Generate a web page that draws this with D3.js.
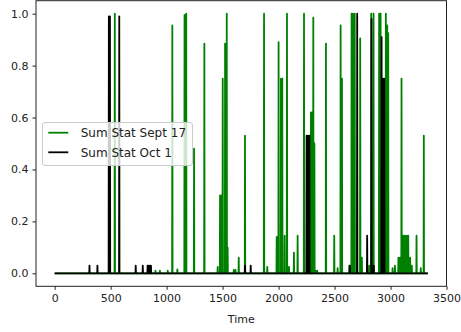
<!DOCTYPE html>
<html>
<head>
<meta charset="utf-8">
<script src="https://cdn.jsdelivr.net/npm/d3@7"></script>
<style>
  html, body { margin: 0; padding: 0; background: #fff; }
  svg { display: block; font-family: "DejaVu Sans", sans-serif; }
</style>
</head>
<body>
<svg id="chart" width="461" height="332"></svg>
<script>
// ---- data ----
const timeRange = [0, 3333];
const xTicks = [0, 500, 1000, 1500, 2000, 2500, 3000, 3500];
const yTicks = [0.0, 0.2, 0.4, 0.6, 0.8, 1.0];
const seriesNames = ["Sum Stat Sept 17", "Sum Stat Oct 1"];

// non-zero readings (time, value); the series sits at 0 elsewhere
const sept17Time = [537, 900, 940, 1010, 1051, 1096, 1160, 1175, 1245, 1337, 1456, 1477, 1490, 1501, 1522, 1537, 1545,
  1600, 1615, 1644, 1700, 1870, 1899, 1983, 1992, 2000, 2021, 2033, 2054, 2075, 2093, 2137, 2170, 2227,
  2289, 2300, 2310, 2320, 2330, 2345, 2423, 2497, 2527, 2554, 2566, 2631, 2652, 2665, 2680, 2729, 2744,
  2809, 2827, 2848, 2898, 2911, 2958, 2970, 2979, 3018, 3039, 3070, 3085, 3098, 3113, 3128, 3143, 3158,
  3175, 3190, 3232, 3270, 3297];
const sept17Value = [1.0, 0.01, 0.01, 0.01, 0.955, 0.015, 0.995, 1.0, 0.48, 0.885, 0.025, 0.30, 0.30, 0.75, 0.885, 1.0, 0.10,
  0.013, 0.013, 0.06, 0.53, 1.0, 0.025, 0.14, 0.14, 0.89, 0.75, 0.75, 0.145, 1.0, 0.025, 0.08, 0.145, 1.0,
  0.62, 0.62, 0.985, 0.5, 0.01, 0.01, 0.885, 0.145, 0.02, 0.955, 0.75, 0.03, 1.0, 1.0, 1.0, 0.905, 0.06,
  0.03, 1.0, 1.0, 1.0, 1.0, 1.0, 0.955, 0.925, 0.02, 0.03, 0.06, 0.06, 0.75, 0.145, 0.145, 0.145, 0.145,
  0.06, 0.03, 0.145, 0.02, 0.53];

const oct1Time = [311, 382, 484, 494, 577, 724, 787, 830, 840, 850, 860, 1700, 1751, 2250, 2262, 2275,
  2637, 2702, 2791, 2830, 2850, 2920, 2932, 2944];
const oct1Value = [0.03, 0.03, 0.99, 0.99, 0.99, 0.03, 0.03, 0.03, 0.03, 0.03, 0.03, 0.03, 0.03, 0.53, 0.53, 0.53,
  0.03, 1.0, 0.145, 0.98, 0.03, 0.91, 0.75, 0.75];

// ---- build series: zero baseline with the readings as spikes ----
function buildSeries(times, values) {
  const pts = [[timeRange[0], 0]];
  times.forEach((t, i) => {
    pts.push([t - 2, 0], [t, values[i]], [t + 2, 0]);
  });
  pts.push([timeRange[1], 0]);
  return pts;
}
const sept17 = buildSeries(sept17Time, sept17Value);
const oct1 = buildSeries(oct1Time, oct1Value);

// ---- layout ----
const svg = d3.select("#chart");
const plot = { left: 36, right: 446.5, top: 0.7, bottom: 286.3 };

const x = d3.scaleLinear().domain([-166.65, 3499.65]).range([plot.left, plot.right]);
const y = d3.scaleLinear().domain([-0.05, 1.05]).range([plot.bottom, plot.top]);

const line = d3.line().x(d => x(d[0])).y(d => y(d[1]));

svg.append("path").datum(sept17)
  .attr("d", line).attr("fill", "none")
  .attr("stroke", "#008000").attr("stroke-width", 1.8).attr("stroke-linejoin", "round");
svg.append("path").datum(oct1)
  .attr("d", line).attr("fill", "none")
  .attr("stroke", "#000").attr("stroke-width", 1.8).attr("stroke-linejoin", "round");

// axes
const xAxis = d3.axisBottom(x).tickValues(xTicks).tickSize(3.5).tickPadding(4).tickFormat(d3.format("d"));
const yAxis = d3.axisLeft(y).tickValues(yTicks).tickSize(3.5).tickPadding(4).tickFormat(d3.format(".1f"));

const gx = svg.append("g").attr("transform", `translate(0,${plot.bottom})`).call(xAxis);
const gy = svg.append("g").attr("transform", `translate(${plot.left},0)`).call(yAxis);
[gx, gy].forEach(g => {
  g.select(".domain").remove();
  g.selectAll(".tick line").attr("stroke", "#222").attr("stroke-width", 1);
  g.selectAll(".tick text").attr("fill", "#222").attr("font-size", 11)
    .attr("font-family", "DejaVu Sans, sans-serif");
});

// frame
svg.append("rect")
  .attr("x", plot.left).attr("y", plot.top)
  .attr("width", plot.right - plot.left).attr("height", plot.bottom - plot.top)
  .attr("fill", "none").attr("stroke", "#222").attr("stroke-width", 1);

// x label
svg.append("text")
  .attr("x", (plot.left + plot.right) / 2).attr("y", 323)
  .attr("text-anchor", "middle").attr("font-size", 11).attr("fill", "#222")
  .text("Time");

// legend
const lg = svg.append("g");
lg.append("rect")
  .attr("x", 42.5).attr("y", 122.5).attr("width", 150).attr("height", 43).attr("rx", 2.5)
  .attr("fill", "#fff").attr("fill-opacity", 0.8)
  .attr("stroke", "#cccccc").attr("stroke-width", 1);
const legendColors = ["#008000", "#000"];
const rowY = [132.7, 152.3];
seriesNames.forEach((name, i) => {
  lg.append("line")
    .attr("x1", 48.3).attr("x2", 68.3).attr("y1", rowY[i]).attr("y2", rowY[i])
    .attr("stroke", legendColors[i]).attr("stroke-width", 1.8);
  lg.append("text")
    .attr("x", 80.7).attr("y", rowY[i]).attr("dy", "0.36em")
    .attr("font-size", 12).attr("fill", "#222")
    .text(name);
});
</script>
</body>
</html>
